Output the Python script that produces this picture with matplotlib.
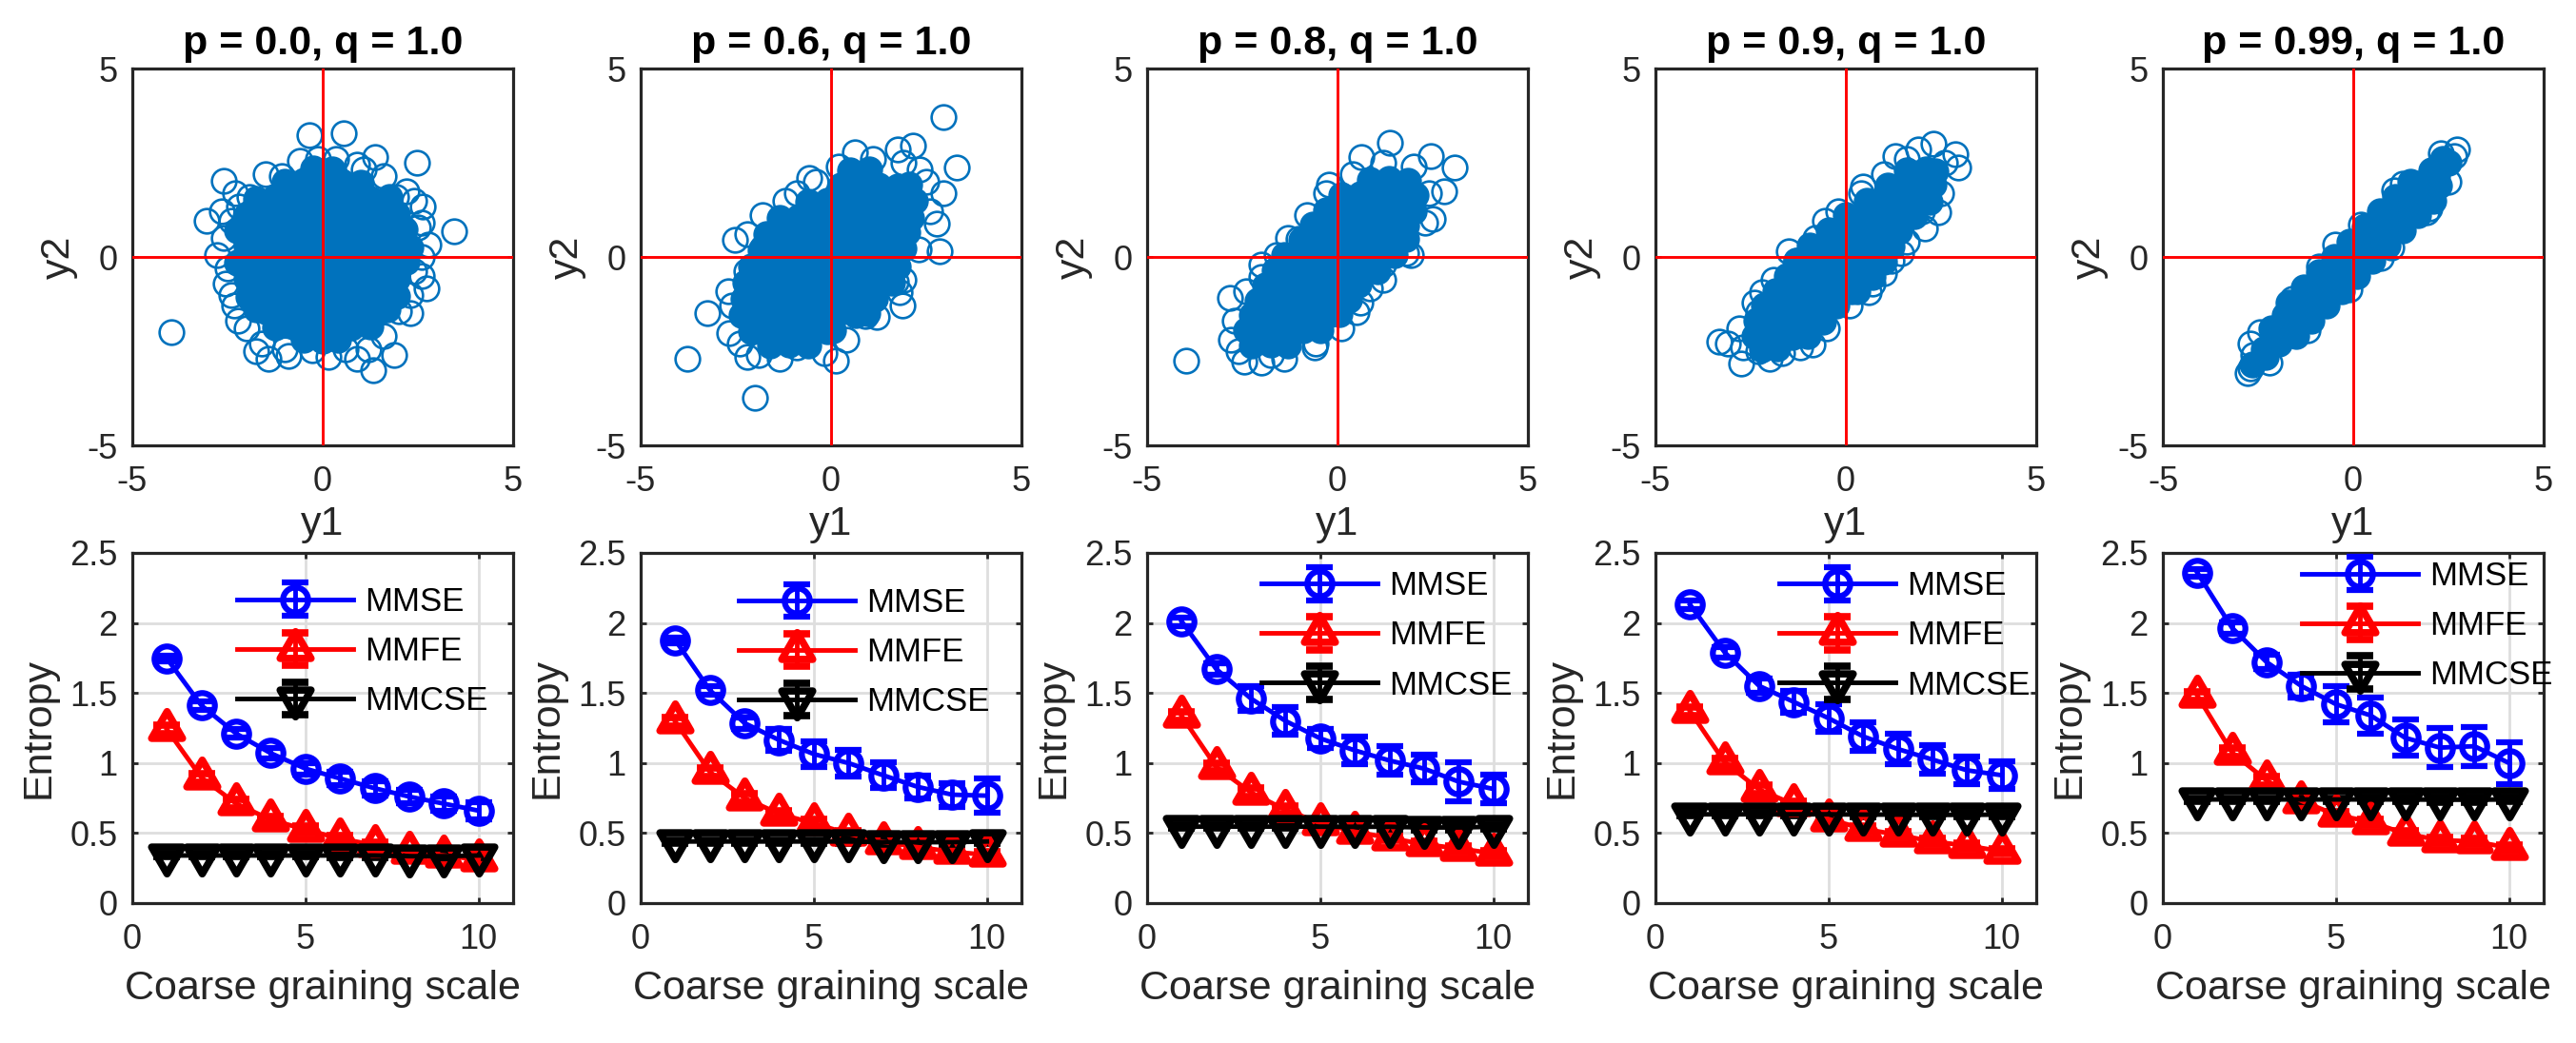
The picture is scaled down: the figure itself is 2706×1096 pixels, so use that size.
import numpy as np
import matplotlib.pyplot as plt
from matplotlib.path import Path

plt.rcParams['font.family'] = ['Liberation Sans', 'DejaVu Sans']
plt.rcParams['axes.unicode_minus'] = False

# ---- data ----
p_labels = ['p = 0.0, q = 1.0', 'p = 0.6, q = 1.0', 'p = 0.8, q = 1.0',
            'p = 0.9, q = 1.0', 'p = 0.99, q = 1.0']

# scatter clouds: loose circles on the rim + points of the dense core
rim_p00 = [(-0.34, 3.24), (0.55, 3.29), (1.38, 2.66), (2.48, 2.50), (-2.59, 2.03), (3.46, 0.67),
           (-3.97, -2.0), (-3.04, 0.95), (1.32, -3.0), (1.88, -2.6), (0.16, -2.65), (-1.43, -2.69),
           (-1.74, -2.51), (-0.89, -2.63), (-2.23, -1.70), (-2.54, -0.70), (-2.77, 0.06), (2.72, -0.84),
           (2.77, 0.33), (2.63, 1.33), (1.92, 1.60), (-1.92, 1.60), (-0.13, 2.59), (0.36, 2.59),
           (1.07, 2.32), (-1.07, 2.14), (2.0, -1.43), (0.89, -2.69), (-0.27, -2.47), (2.5, 0.79),
           (2.41, -0.39), (-2.41, 0.97), (-2.32, -1.29), (2.3, -1.0), (2.2, 1.75), (-1.6, -2.3),
           (1.2, -2.45), (-2.2, 1.35), (2.6, 0.0),
           (-2.6, 0.5), (-2.5, -0.3), (-2.4, -1.0), (-2.0, -1.9), (-1.0, -2.45), (0.6, -2.45),
           (1.6, -2.1), (2.3, -1.5), (2.6, -0.5), (2.6, 0.9), (2.4, 1.5), (1.6, 2.15), (0.9, 2.45),
           (-0.6, 2.55), (-1.5, 2.2), (-2.3, 1.7), (-2.65, 1.2)]
core_p00 = [(-0.25, 2.35), (0.25, 2.33),
            (-1.0, 2.0), (-0.5, 2.02), (0.0, 1.98), (0.5, 2.0), (1.0, 1.97),
            (-1.75, 1.55), (-1.25, 1.6), (-0.75, 1.57), (-0.25, 1.55), (0.25, 1.6), (0.75, 1.57), (1.25, 1.55), (1.75, 1.58),
            (-2.0, 1.12), (-1.5, 1.15), (-1.0, 1.14), (-0.5, 1.12), (0.0, 1.16), (0.5, 1.14), (1.0, 1.12), (1.5, 1.15), (1.95, 1.13),
            (-2.25, 0.7), (-1.75, 0.72), (-1.25, 0.7), (-0.75, 0.73), (-0.25, 0.7), (0.25, 0.72), (0.75, 0.7), (1.25, 0.71), (1.75, 0.7), (2.15, 0.72),
            (-2.0, 0.28), (-1.5, 0.3), (-1.0, 0.27), (-0.5, 0.29), (0.0, 0.28), (0.5, 0.3), (1.0, 0.27), (1.5, 0.28), (2.0, 0.3), (2.3, 0.25),
            (-2.25, -0.15), (-1.75, -0.13), (-1.25, -0.16), (-0.75, -0.14), (-0.25, -0.15), (0.25, -0.13), (0.75, -0.16), (1.25, -0.14), (1.75, -0.15), (2.2, -0.12),
            (-2.0, -0.58), (-1.5, -0.56), (-1.0, -0.6), (-0.5, -0.57), (0.0, -0.58), (0.5, -0.56), (1.0, -0.6), (1.5, -0.57), (1.95, -0.58),
            (-1.95, -1.05), (-1.75, -1.0), (-1.25, -1.02), (-0.75, -1.0), (-0.25, -1.03), (0.25, -1.01), (0.75, -1.0), (1.25, -1.02), (1.75, -1.0), (1.95, -1.03),
            (-1.75, -1.4), (-1.5, -1.44), (-1.0, -1.42), (-0.5, -1.45), (0.0, -1.43), (0.5, -1.44), (1.0, -1.42), (1.5, -1.45), (1.7, -1.4),
            (-1.25, -1.87), (-0.75, -1.85), (-0.25, -1.88), (0.25, -1.86), (0.75, -1.87), (1.25, -1.85),
            (-0.5, -2.2), (0.0, -2.22), (0.4, -2.2)]

rim_p06 = [(2.96, 3.72), (3.30, 2.37), (2.14, 2.95), (1.74, 2.86), (0.63, 2.77), (-0.58, 2.10),
           (-0.89, 1.69), (-2.53, 0.45), (-1.79, 0.24), (2.86, 0.15), (2.95, 1.69), (2.77, 0.88),
           (-3.26, -1.49), (-2.68, -2.01), (-3.77, -2.69), (-2.01, -3.73), (-2.19, -2.65), (-1.34, -2.69),
           (-0.18, -2.56), (0.13, -2.74), (1.88, -1.29), (1.70, -0.66), (0.89, -1.56), (-2.23, -0.39),
           (2.32, 2.32), (1.79, -0.93),
           (-2.6, -1.3), (-2.7, -0.9), (-2.4, -2.3), (-1.9, -2.6), (-0.9, -2.4), (0.4, -2.2),
           (1.2, -1.6), (1.9, -0.6), (2.3, 0.2), (2.6, 1.2), (2.5, 2.0), (1.9, 2.5), (1.1, 2.6),
           (0.2, 2.4), (-0.4, 2.0), (-1.2, 1.5), (-1.8, 1.1), (-2.2, 0.6)]
core_p06 = [(0.5, 2.3), (1.0, 2.32),
            (0.25, 1.9), (0.75, 1.92), (1.25, 1.9), (1.75, 1.88), (2.05, 1.93),
            (-0.6, 1.47), (-0.1, 1.5), (0.4, 1.46), (0.9, 1.48), (1.4, 1.47), (1.9, 1.45), (2.2, 1.5),
            (-1.35, 1.04), (-0.85, 1.06), (-0.35, 1.03), (0.15, 1.05), (0.65, 1.04), (1.15, 1.02), (1.65, 1.05), (2.1, 1.04),
            (-1.7, 0.61), (-1.2, 0.63), (-0.7, 0.6), (-0.2, 0.62), (0.3, 0.61), (0.8, 0.59), (1.3, 0.62), (1.8, 0.6), (2.0, 0.65),
            (-1.85, 0.18), (-1.35, 0.2), (-0.85, 0.17), (-0.35, 0.19), (0.15, 0.18), (0.65, 0.2), (1.15, 0.17), (1.65, 0.18), (1.9, 0.22),
            (-2.1, -0.25), (-1.6, -0.23), (-1.1, -0.26), (-0.6, -0.24), (-0.1, -0.25), (0.4, -0.23), (0.9, -0.26), (1.4, -0.24), (1.75, -0.25),
            (-2.25, -0.68), (-1.75, -0.66), (-1.25, -0.7), (-0.75, -0.67), (-0.25, -0.68), (0.25, -0.66), (0.75, -0.7), (1.25, -0.67), (1.6, -0.68),
            (-2.3, -1.11), (-1.8, -1.1), (-1.3, -1.12), (-0.8, -1.1), (-0.3, -1.13), (0.2, -1.11), (0.7, -1.1), (1.15, -1.12),
            (-2.35, -1.54), (-1.85, -1.52), (-1.35, -1.55), (-0.85, -1.53), (-0.35, -1.54), (0.15, -1.52), (0.65, -1.55), (0.95, -1.5),
            (-2.1, -1.97), (-1.6, -1.95), (-1.1, -1.98), (-0.6, -1.96), (-0.1, -1.97), (0.05, -1.95),
            (-1.6, -2.35), (-1.1, -2.33), (-0.6, -2.36)]

rim_p08 = [(-0.22, 1.92), (0.63, 2.64), (1.38, 3.04), (2.46, 2.68), (3.08, 2.37), (2.81, 1.73),
           (2.50, 1.01), (1.92, 0.06), (0.85, -0.84), (0.49, -1.47), (-0.58, -2.29), (-1.74, -2.60),
           (-2.46, -2.78), (-2.81, -2.20), (-2.83, -1.09), (-3.97, -2.74), (-2.01, -0.52), (-1.61, 0.06),
           (-1.03, 0.47), (1.21, -0.21),
           (-2.6, -2.5), (-2.7, -1.7), (-2.4, -0.9), (-2.0, -0.2), (-1.3, 0.5), (-0.8, 1.1),
           (-0.3, 1.7), (0.4, 2.2), (1.2, 2.5), (2.0, 2.4), (2.4, 1.7), (2.3, 0.9), (1.8, 0.1),
           (1.2, -0.6), (0.6, -1.2), (0.1, -1.9), (-0.6, -2.4), (-1.4, -2.7), (-2.0, -2.8)]
core_p08 = [(0.85, 2.05), (1.35, 2.07), (1.85, 2.03),
            (0.1, 1.65), (0.6, 1.67), (1.1, 1.64), (1.6, 1.66), (2.05, 1.63),
            (-0.3, 1.25), (0.2, 1.27), (0.7, 1.24), (1.2, 1.26), (1.7, 1.25), (2.0, 1.22),
            (-0.65, 0.85), (-0.15, 0.87), (0.35, 0.84), (0.85, 0.86), (1.35, 0.85), (1.8, 0.83),
            (-0.95, 0.45), (-0.45, 0.47), (0.05, 0.44), (0.55, 0.46), (1.05, 0.45), (1.55, 0.43), (1.8, 0.48),
            (-1.4, 0.05), (-0.9, 0.07), (-0.4, 0.04), (0.1, 0.06), (0.6, 0.05), (1.1, 0.03), (1.5, 0.06),
            (-1.65, -0.35), (-1.15, -0.33), (-0.65, -0.36), (-0.15, -0.34), (0.35, -0.35), (0.85, -0.33), (1.05, -0.37),
            (-1.9, -0.75), (-1.4, -0.73), (-0.9, -0.76), (-0.4, -0.74), (0.1, -0.75), (0.55, -0.73),
            (-2.1, -1.15), (-1.6, -1.13), (-1.1, -1.16), (-0.6, -1.14), (-0.1, -1.15), (0.3, -1.13),
            (-2.25, -1.55), (-1.75, -1.53), (-1.25, -1.56), (-0.75, -1.54), (-0.25, -1.55), (0.05, -1.52),
            (-2.4, -1.95), (-1.9, -1.93), (-1.4, -1.96), (-0.9, -1.94), (-0.45, -1.95),
            (-2.25, -2.35), (-1.75, -2.33), (-1.3, -2.36)]

rim_p09 = [(2.29, 3.0), (2.88, 2.73), (2.96, 2.37), (1.31, 2.68), (1.89, 2.86), (2.43, 1.19),
           (2.07, 0.77), (0.46, 1.87), (-0.56, 0.97), (-1.5, 0.15), (-2.21, -0.93), (-2.30, -1.47),
           (-3.33, -2.24), (-3.11, -2.29), (-2.75, -2.83), (-2.30, -2.51), (-1.68, -2.56), (-0.88, -2.33),
           (1.0, -0.43), (0.6, -0.93), (1.45, 0.11),
           (-2.7, -2.4), (-2.8, -1.9), (-2.4, -1.2), (-1.9, -0.6), (-1.3, -0.1), (-0.8, 0.5),
           (-0.2, 1.2), (0.4, 1.7), (1.0, 2.2), (1.6, 2.6), (2.6, 2.5), (2.5, 1.7), (2.0, 1.2),
           (1.6, 0.4), (1.2, -0.1), (0.7, -0.7), (0.1, -1.3), (-0.5, -1.9), (-1.2, -2.4), (-2.0, -2.7)]
core_p09 = [(1.6, 2.3), (2.1, 2.32), (2.35, 2.28),
            (1.1, 1.9), (1.6, 1.92), (2.1, 1.89), (2.3, 1.93),
            (0.55, 1.5), (1.05, 1.52), (1.55, 1.49), (2.05, 1.51), (2.2, 1.47),
            (0.0, 1.1), (0.5, 1.12), (1.0, 1.09), (1.5, 1.11), (1.8, 1.08),
            (-0.45, 0.7), (0.05, 0.72), (0.55, 0.69), (1.05, 0.71), (1.4, 0.68),
            (-0.95, 0.3), (-0.45, 0.32), (0.05, 0.29), (0.55, 0.31), (1.05, 0.3), (1.2, 0.27),
            (-1.3, -0.1), (-0.8, -0.08), (-0.3, -0.11), (0.2, -0.09), (0.7, -0.1), (1.0, -0.12),
            (-1.55, -0.5), (-1.05, -0.48), (-0.55, -0.51), (-0.05, -0.49), (0.45, -0.5), (0.7, -0.52),
            (-1.85, -0.9), (-1.35, -0.88), (-0.85, -0.91), (-0.35, -0.89), (0.15, -0.9), (0.3, -0.92),
            (-2.15, -1.3), (-1.65, -1.28), (-1.15, -1.31), (-0.65, -1.29), (-0.25, -1.3),
            (-2.35, -1.7), (-1.85, -1.68), (-1.35, -1.71), (-0.85, -1.69), (-0.6, -1.72),
            (-2.4, -2.1), (-1.9, -2.08), (-1.4, -2.11), (-1.0, -2.09),
            (-2.2, -2.45), (-1.8, -2.43)]

rim_p099 = [(-2.78, -3.08), (-2.7, -2.95), (-2.62, -2.6), (-2.71, -2.29), (2.73, 2.86), (2.64, 2.68),
            (1.08, 1.78), (1.93, 1.19), (0.72, -0.03), (-0.48, 0.33),
            (-2.45, -2.0), (-1.6, -1.1), (-0.9, -0.25), (0.2, 0.85), (1.3, 1.95), (2.3, 2.75),
            (-2.2, -2.8), (-1.2, -1.95), (-0.1, -0.85), (1.0, 0.25), (2.0, 1.3), (2.5, 2.0)]
core_p099 = [(-2.65, -2.85), (-2.35, -2.45), (-2.0, -2.1), (-1.65, -1.72), (-1.3, -1.35), (-0.95, -1.0),
             (-0.6, -0.65), (-0.25, -0.3), (0.1, 0.05), (0.45, 0.4), (0.8, 0.75), (1.15, 1.1),
             (1.5, 1.45), (1.85, 1.8), (2.2, 2.15), (2.5, 2.5),
             (-2.15, -1.9), (-1.8, -1.55), (-1.45, -1.2), (-1.1, -0.85), (-0.75, -0.5), (-0.4, -0.15),
             (-0.05, 0.2), (0.3, 0.55), (0.65, 0.9), (1.0, 1.25), (1.35, 1.6), (1.7, 1.95), (2.05, 2.3), (2.35, 2.6),
             (-2.3, -2.65), (-1.95, -2.3), (-1.6, -1.95), (-1.25, -1.6), (-0.9, -1.25), (-0.55, -0.9),
             (-0.2, -0.55), (0.15, -0.2), (0.5, 0.15), (0.85, 0.5), (1.2, 0.85), (1.55, 1.2), (1.9, 1.55), (2.25, 1.9),
             (-1.7, -1.2), (-1.3, -0.8), (-0.9, -0.4), (-0.5, 0.0), (-0.1, 0.4), (0.3, 0.8), (0.7, 1.2), (1.1, 1.6), (1.5, 2.0),
             (-1.5, -2.1), (-1.1, -1.7), (-0.7, -1.3), (-0.3, -0.9), (0.1, -0.5), (0.5, -0.1), (0.9, 0.3),
             (1.3, 0.7), (1.7, 1.1), (2.1, 1.5)]

rims = [rim_p00, rim_p06, rim_p08, rim_p09, rim_p099]
cores = [core_p00, core_p06, core_p08, core_p09, core_p099]

# entropy curves
scales = [1, 2, 3, 4, 5, 6, 7, 8, 9, 10]

mmse_p00 = [1.745, 1.41, 1.21, 1.07, 0.96, 0.89, 0.82, 0.76, 0.71, 0.66]
mmse_p06 = [1.877, 1.52, 1.285, 1.164, 1.064, 1.0, 0.913, 0.83, 0.774, 0.767]
mmse_p08 = [2.01, 1.67, 1.46, 1.30, 1.176, 1.09, 1.018, 0.96, 0.867, 0.815]
mmse_p09 = [2.13, 1.79, 1.55, 1.436, 1.32, 1.19, 1.10, 1.025, 0.948, 0.913]
mmse_p099 = [2.357, 1.965, 1.72, 1.55, 1.42, 1.34, 1.18, 1.11, 1.12, 1.0]

mmse_err_p00 = [0.02, 0.03, 0.03, 0.04, 0.04, 0.05, 0.05, 0.05, 0.05, 0.06]
mmse_err_p06 = [0.02, 0.03, 0.04, 0.08, 0.09, 0.095, 0.09, 0.08, 0.085, 0.12]
mmse_err_p08 = [0.03, 0.04, 0.09, 0.1, 0.07, 0.1, 0.1, 0.1, 0.14, 0.1]
mmse_err_p09 = [0.03, 0.04, 0.05, 0.08, 0.1, 0.1, 0.11, 0.1, 0.1, 0.1]
mmse_err_p099 = [0.03, 0.04, 0.05, 0.08, 0.13, 0.13, 0.13, 0.14, 0.14, 0.15]

mmfe_p00 = [1.24, 0.895, 0.71, 0.595, 0.525, 0.46, 0.415, 0.365, 0.34, 0.31]
mmfe_p06 = [1.296, 0.936, 0.75, 0.637, 0.57, 0.495, 0.437, 0.40, 0.367, 0.344]
mmfe_p08 = [1.335, 0.971, 0.79, 0.665, 0.572, 0.51, 0.465, 0.42, 0.39, 0.355]
mmfe_p09 = [1.37, 1.006, 0.81, 0.704, 0.60, 0.53, 0.488, 0.44, 0.41, 0.37]
mmfe_p099 = [1.48, 1.075, 0.875, 0.73, 0.63, 0.58, 0.495, 0.45, 0.44, 0.395]
mmfe_err = [0.03, 0.03, 0.03, 0.025, 0.025, 0.02, 0.02, 0.02, 0.02, 0.02]

mmcse_p00 = [0.34, 0.34, 0.34, 0.34, 0.34, 0.34, 0.34, 0.335, 0.335, 0.34]
mmcse_p06 = [0.44, 0.44, 0.44, 0.44, 0.44, 0.44, 0.435, 0.435, 0.435, 0.44]
mmcse_p08 = [0.546, 0.546, 0.546, 0.546, 0.546, 0.545, 0.545, 0.54, 0.54, 0.545]
mmcse_p09 = [0.634, 0.634, 0.634, 0.634, 0.634, 0.632, 0.632, 0.63, 0.63, 0.632]
mmcse_p099 = [0.74, 0.74, 0.74, 0.74, 0.74, 0.74, 0.74, 0.738, 0.738, 0.74]
mmcse_err = [0.01, 0.01, 0.01, 0.01, 0.01, 0.015, 0.015, 0.015, 0.015, 0.015]

mmse_all = [mmse_p00, mmse_p06, mmse_p08, mmse_p09, mmse_p099]
mmse_err_all = [mmse_err_p00, mmse_err_p06, mmse_err_p08, mmse_err_p09, mmse_err_p099]
mmfe_all = [mmfe_p00, mmfe_p06, mmfe_p08, mmfe_p09, mmfe_p099]
mmcse_all = [mmcse_p00, mmcse_p06, mmcse_p08, mmcse_p09, mmcse_p099]

# ---- styling ----
BLUE = '#0072BD'
GREY = '#262626'
W, H = 2706, 1096
lefts_px = [139, 673, 1205, 1739, 2272]
legend_anchor = [(0.275, 0.905), (0.258, 0.902), (0.30, 0.95), (0.325, 0.95), (0.365, 0.979)]

tri_up = Path([(0, 1), (-0.866, -0.5), (0.866, -0.5), (0, 1)],
              [Path.MOVETO, Path.LINETO, Path.LINETO, Path.CLOSEPOLY])
tri_down = Path([(0, -1), (-0.866, 0.5), (0.866, 0.5), (0, -1)],
                [Path.MOVETO, Path.LINETO, Path.LINETO, Path.CLOSEPOLY])


def style_axes(ax):
    for s in ax.spines.values():
        s.set_linewidth(2.3)
        s.set_color(GREY)
    ax.tick_params(direction='in', length=4, width=2.0, top=True, right=True,
                   labelsize=26, colors=GREY, labelcolor=GREY)
    ax.tick_params(axis='x', pad=15)
    ax.tick_params(axis='y', pad=11)


fig = plt.figure(figsize=(W / 100, H / 100), dpi=100)

for i in range(5):
    # top row: scatter
    ax = fig.add_axes([lefts_px[i] / W, 1 - 468 / H, 400 / W, 396 / H])
    core = np.array(cores[i])
    rim = np.array(rims[i])
    ax.plot(core[:, 0], core[:, 1], 'o', ls='none', ms=18.5, mfc=BLUE, mec=BLUE, mew=1.9)
    ax.plot(rim[:, 0], rim[:, 1], 'o', ls='none', ms=18.5, mfc='none', mec=BLUE, mew=1.9)
    ax.axhline(0, color='red', lw=2.1, zorder=5)
    ax.axvline(0, color='red', lw=2.1, zorder=5)
    ax.set_xlim(-5, 5)
    ax.set_ylim(-5, 5)
    ax.set_xticks([-5, 0, 5])
    ax.set_yticks([-5, 0, 5])
    style_axes(ax)
    ax.set_title(p_labels[i], fontsize=31, fontweight='bold', pad=11)
    ax.set_xlabel('y1', fontsize=31, color=GREY, labelpad=5)
    ax.set_ylabel('y2', fontsize=31, color=GREY, labelpad=7)

    # bottom row: entropy vs scale
    bx = fig.add_axes([lefts_px[i] / W, 1 - 949 / H, 400 / W, 368 / H])
    bx.grid(True, color='#dedede', lw=2.0)
    bx.set_axisbelow(True)
    kw = dict(lw=3.5, mfc='none', capsize=10, capthick=3.5, elinewidth=3.5)
    bx.errorbar(scales, mmse_all[i], yerr=mmse_err_all[i], color='blue', marker='o',
                ms=19, mew=4.5, label='MMSE', **kw)
    bx.errorbar(scales, mmfe_all[i], yerr=mmfe_err, color='red', marker=tri_up,
                ms=27, mew=5.5, label='MMFE', **kw)
    bx.errorbar(scales, mmcse_all[i], yerr=mmcse_err, color='black', marker=tri_down,
                ms=27, mew=5.5, label='MMCSE', **kw)
    bx.set_xlim(0, 11)
    bx.set_ylim(0, 2.5)
    bx.set_xticks([0, 5, 10])
    bx.set_yticks([0, 0.5, 1, 1.5, 2, 2.5])
    bx.set_yticklabels(['0', '0.5', '1', '1.5', '2', '2.5'])
    style_axes(bx)
    bx.set_xlabel('Coarse graining scale', fontsize=31, color=GREY, labelpad=10)
    bx.set_ylabel('Entropy', fontsize=31, color=GREY, labelpad=9)
    bx.legend(loc='upper left', bbox_to_anchor=legend_anchor[i], frameon=False,
              fontsize=25, borderpad=0, borderaxespad=0, handlelength=3.5,
              handletextpad=0.35, labelspacing=0.55)

fig.savefig('out.png', dpi=100)
